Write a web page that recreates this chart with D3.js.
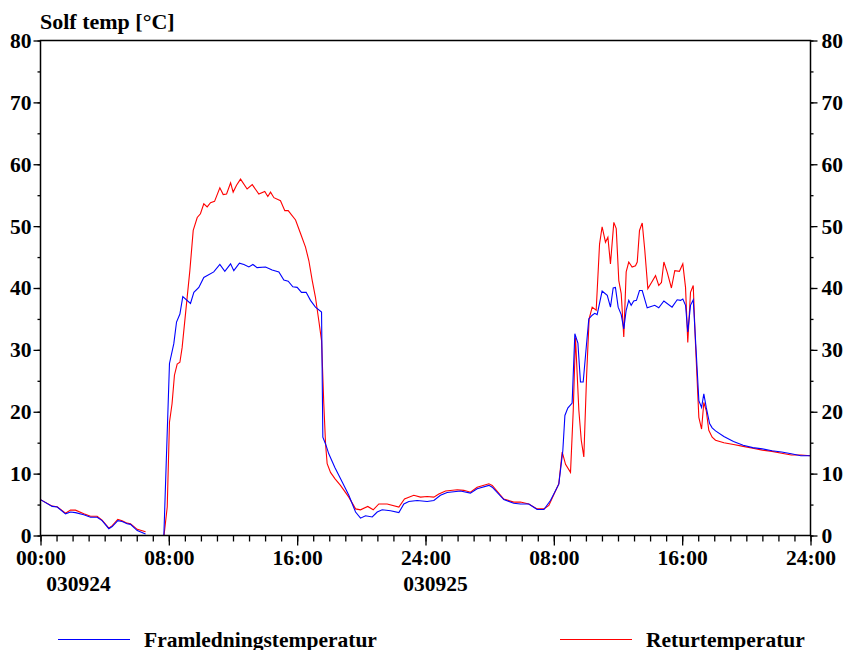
<!DOCTYPE html>
<html>
<head>
<meta charset="utf-8">
<script src="https://cdn.jsdelivr.net/npm/d3@7"></script>
<style>
	body { margin: 0; background: #fff; }
	svg text { font-family: "Liberation Serif", "Times New Roman", serif; font-weight: bold; fill: #000; }
</style>
</head>
<body>
<svg id="chart" width="846" height="650"></svg>
<script>
"use strict";

// Data (hours from 030924 00:00, temperatures in °C), null = no data
var flowHours = [0, 0.73, 1.04, 1.56, 1.87, 2.18, 2.7, 3.12, 3.53, 3.84, 4.26, 4.47, 4.82, 5.09, 5.4, 5.61, 6.03, 6.55,
	7.0,
	7.69, 8.04, 8.31, 8.48, 8.69, 8.87, 9.35, 9.56, 9.87, 10.18, 10.8, 11.18, 11.49, 11.85, 12.05, 12.4, 12.68, 12.99,
	13.24, 13.5, 14.03, 14.44, 14.86, 15.17, 15.44, 15.73, 16.0, 16.27, 16.56, 16.83, 17.14, 17.52, 17.6, 17.77, 17.97,
	18.35, 18.8, 19.22, 19.64, 19.95, 20.26, 20.68, 20.99, 21.3, 21.82, 22.34, 22.65, 22.96, 23.48, 24.1, 24.52, 24.93,
	25.35, 26.18, 26.8, 27.22, 27.95, 28.16, 28.88, 29.5, 29.92, 30.44, 30.96, 31.38, 31.79, 32.31, 32.56, 32.69, 32.87,
	33.14, 33.31, 33.5, 33.66, 33.83, 34.04, 34.18, 34.39, 34.55, 34.7, 35.01, 35.33, 35.53, 35.7, 35.84, 36.01, 36.2,
	36.36, 36.51, 36.67, 36.82, 36.98, 37.15, 37.34, 37.51, 37.82, 38.29, 38.54, 38.86, 39.37, 39.69, 39.9, 40.04, 40.21,
	40.35, 40.52, 40.69, 40.87, 41.04, 41.21, 41.35, 41.5, 41.71, 41.87, 42.08, 42.6, 43.2, 43.8, 44.4, 45.0, 45.6, 46.2,
	46.8, 47.4, 48.0];
var flowTemp = [5.8, 4.7, 4.6, 3.5, 3.8, 3.7, 3.35, 2.95, 2.95, 2.4, 1.1, 1.45, 2.4, 2.25, 1.9, 1.8, 0.8, 0.25,
	null,
	0, 27.8, 31.0, 34.5, 35.8, 38.6, 37.5, 39.3, 40.1, 41.7, 42.6, 43.8, 42.7, 43.9, 42.8, 44.0, 43.8, 43.4,
	43.8, 43.3, 43.4, 42.9, 42.6, 41.3, 41.1, 40.2, 40.1, 39.3, 39.3, 38.0, 36.9, 36.1, 15.9, 14.8, 13.2,
	11.0, 8.7, 6.5, 3.8, 2.8, 3.2, 3.0, 3.8, 4.15, 4.0, 3.7, 5.1, 5.5, 5.65, 5.5, 5.65, 6.5,
	6.95, 7.2, 6.85, 7.55, 8.1, 7.8, 5.8, 5.2, 5.1, 5.1, 4.2, 4.2, 5.65, 8.3, 13.7, 19.4, 20.6,
	21.4, 32.6, 31.1, 24.8, 24.8, 31.0, 35.0, 35.6, 35.9, 35.7, 39.5, 38.8, 36.9, 40.0, 40.1, 36.9, 35.7,
	33.4, 36.4, 38.0, 37.2, 37.9, 38.0, 39.6, 39.6, 36.8, 37.2, 36.8, 37.9, 36.9, 38.1, 38.0, 38.2, 37.2,
	32.9, 37.2, 38.1, 29.9, 21.8, 20.7, 22.9, 20.7, 18.1, 17.4, 16.9, 16.0, 15.2, 14.6, 14.2, 14.0, 13.7, 13.5,
	13.2, 12.9, 12.9];

var returnHours = [0, 0.73, 1.04, 1.56, 1.87, 2.18, 2.7, 3.12, 3.53, 3.84, 4.26, 4.47, 4.82, 5.09, 5.4, 5.61, 6.03, 6.55,
	7.0,
	7.7, 7.9, 8.04, 8.2, 8.35, 8.52, 8.69, 8.83, 9.1, 9.31, 9.52, 9.77, 9.97, 10.18, 10.39, 10.6, 10.85, 11.18, 11.39,
	11.6, 11.85, 12.01, 12.22, 12.47, 12.88, 13.2, 13.61, 13.98, 14.17, 14.34, 14.55, 14.96, 15.23, 15.44, 15.9, 16.21,
	16.52, 16.73, 16.94, 17.14, 17.35, 17.52, 17.66, 17.77, 17.87, 18.08, 18.35, 18.7, 19.22, 19.64, 19.95, 20.4, 20.74,
	21.09, 21.61, 22.34, 22.69, 23.27, 23.69, 24.1, 24.52, 24.83, 25.25, 25.98, 26.39, 26.8, 27.22, 27.95, 28.16, 28.88,
	29.5, 29.92, 30.44, 30.96, 31.38, 31.69, 32.31, 32.52, 32.73, 33.04, 33.21, 33.35, 33.56, 33.71, 33.87, 34.04, 34.2,
	34.39, 34.64, 34.85, 35.01, 35.22, 35.37, 35.53, 35.74, 35.89, 36.05, 36.2, 36.36, 36.51, 36.67, 36.88, 37.09, 37.2,
	37.34, 37.51, 37.67, 37.86, 38.09, 38.34, 38.54, 38.71, 38.86, 39.06, 39.33, 39.54, 39.83, 40.04, 40.21, 40.35,
	40.52, 40.69, 40.83, 41.04, 41.21, 41.35, 41.5, 41.66, 41.87, 42.08, 42.6, 43.2, 43.8, 44.4, 45.0, 45.6, 46.2, 46.8,
	47.4, 48.0];
var returnTemp = [5.8, 4.75, 4.65, 3.6, 4.1, 4.1, 3.5, 3.1, 3.1, 2.5, 1.2, 1.6, 2.6, 2.4, 2.0, 1.9, 1.0, 0.6,
	null,
	0, 4.6, 18.3, 21.3, 25.9, 27.7, 28.0, 30.4, 37.4, 42.8, 49.3, 51.4, 52.0, 53.6, 53.1, 53.8, 54.0, 56.2, 55.1,
	55.2, 57.0, 55.5, 56.6, 57.6, 56.0, 56.7, 55.2, 55.6, 54.8, 55.5, 54.6, 54.1, 52.5, 52.5, 51.0, 48.8,
	46.6, 44.4, 41.2, 38.5, 34.7, 31.5, 21.3, 14.8, 11.6, 10.2, 9.2, 8.1, 6.2, 4.3, 4.15, 4.7, 4.15,
	5.1, 5.1, 4.6, 5.9, 6.5, 6.2, 6.3, 6.2, 6.7, 7.2, 7.4, 7.3, 7.0, 7.8, 8.35, 8.1, 5.9,
	5.4, 5.4, 5.1, 4.3, 4.3, 4.85, 8.35, 13.5, 11.5, 10.2, 20.2, 32.0, 20.2, 15.4, 12.7, 25.6, 35.0,
	36.9, 36.4, 47.1, 49.9, 47.4, 48.2, 43.9, 50.6, 49.6, 41.2, 39.1, 32.1, 42.6, 44.2, 43.4, 43.6, 44.2,
	49.3, 50.5, 46.1, 39.9, 40.9, 42.0, 40.4, 40.9, 44.2, 42.6, 40.0, 42.8, 42.7, 43.9, 40.1, 31.2,
	39.3, 40.4, 31.0, 19.1, 17.2, 21.5, 20.2, 17.0, 15.9, 15.4, 15.0, 14.7, 14.4, 14.1, 13.8, 13.6, 13.3, 13.0,
	13.0, 12.9];

var yMajorTicks = [0, 10, 20, 30, 40, 50, 60, 70, 80];
var xMajorTicks = [0, 8, 16, 24, 32, 40, 48];
var xTickLabels = ["00:00", "08:00", "16:00", "24:00", "08:00", "16:00", "24:00"];
var dateLabels = [{ hour: 0, text: "030924" }, { hour: 24, text: "030925" }];
var seriesNames = ["Framledningstemperatur", "Returtemperatur"];
var seriesColors = ["#0000ff", "#ff0000"];

// Layout
var svg = d3.select("#chart");
var plot = { left: 40.5, right: 810.5, top: 40.5, bottom: 535.5 };
var fontSize = "21.5px";

var x = d3.scaleLinear().domain([0, 48]).range([plot.left, plot.right]);
var y = d3.scaleLinear().domain([0, 80]).range([plot.bottom, plot.top]);

function makeSeries(hours, temps) {
	return hours.map(function(h, i) {
		return { h: h, v: temps[i] };
	});
}

var series = [makeSeries(flowHours, flowTemp), makeSeries(returnHours, returnTemp)];

var lineGen = d3.line()
	.defined(function(d) { return d.v != null; })
	.x(function(d) { return x(d.h); })
	.y(function(d) { return y(d.v); });

// Data lines (return drawn first, flow on top)
svg.append("g")
	.selectAll("path")
	.data([1, 0])
	.enter()
	.append("path")
	.attr("d", function(i) { return lineGen(series[i]); })
	.attr("fill", "none")
	.attr("stroke", function(i) { return seriesColors[i]; })
	.attr("stroke-width", 1.1);

// Axes
function styleAxis(g) {
	g.select(".domain").remove();
	g.selectAll("line").attr("stroke", "#000").attr("stroke-width", 1.3);
	g.selectAll("text").attr("font-size", fontSize).attr("font-family", null);
}

var yMinor = d3.range(0, 81, 5);
var xMinor = d3.range(0, 49, 1);

svg.append("g")
	.attr("transform", "translate(" + plot.left + ",0)")
	.call(d3.axisLeft(y).tickValues(yMinor).tickSize(3).tickFormat(""))
	.call(styleAxis);
svg.append("g")
	.attr("transform", "translate(" + plot.left + ",0)")
	.call(d3.axisLeft(y).tickValues(yMajorTicks).tickSize(7).tickPadding(2).tickFormat(d3.format("d")))
	.call(styleAxis);
svg.append("g")
	.attr("transform", "translate(" + plot.right + ",0)")
	.call(d3.axisRight(y).tickValues(yMinor).tickSize(3).tickFormat(""))
	.call(styleAxis);
svg.append("g")
	.attr("transform", "translate(" + plot.right + ",0)")
	.call(d3.axisRight(y).tickValues(yMajorTicks).tickSize(7).tickPadding(4).tickFormat(d3.format("d")))
	.call(styleAxis);

svg.append("g")
	.attr("transform", "translate(0," + plot.bottom + ")")
	.call(d3.axisBottom(x).tickValues(xMinor).tickSize(6).tickFormat(""))
	.call(styleAxis);
svg.append("g")
	.attr("transform", "translate(0," + plot.bottom + ")")
	.call(d3.axisBottom(x).tickValues(xMajorTicks).tickSize(10).tickPadding(4)
		.tickFormat(function(d, i) { return xTickLabels[i]; }))
	.call(styleAxis);

// Frame
svg.append("rect")
	.attr("x", plot.left)
	.attr("y", plot.top)
	.attr("width", plot.right - plot.left)
	.attr("height", plot.bottom - plot.top)
	.attr("fill", "none")
	.attr("stroke", "#000")
	.attr("stroke-width", 1.5);

// Date labels under the time axis
svg.append("g")
	.selectAll("text")
	.data(dateLabels)
	.enter()
	.append("text")
	.attr("x", function(d) { return x(d.hour) + (d.hour === 0 ? 38 : 10); })
	.attr("y", 591)
	.attr("text-anchor", "middle")
	.attr("font-size", fontSize)
	.text(function(d) { return d.text; });

// Title
svg.append("text")
	.attr("x", 40)
	.attr("y", 29)
	.attr("font-size", "22px")
	.text("Solf temp [°C]");

// Legend
var legendX = [58, 560];
var legend = svg.append("g")
	.selectAll("g")
	.data(seriesNames)
	.enter()
	.append("g")
	.attr("transform", function(d, i) { return "translate(" + legendX[i] + ",639.5)"; });

legend.append("line")
	.attr("x1", 0)
	.attr("x2", 72)
	.attr("stroke", function(d, i) { return seriesColors[i]; })
	.attr("stroke-width", 1.2);

legend.append("text")
	.attr("x", 86)
	.attr("y", 7)
	.attr("font-size", fontSize)
	.text(function(d) { return d; });
</script>
</body>
</html>
